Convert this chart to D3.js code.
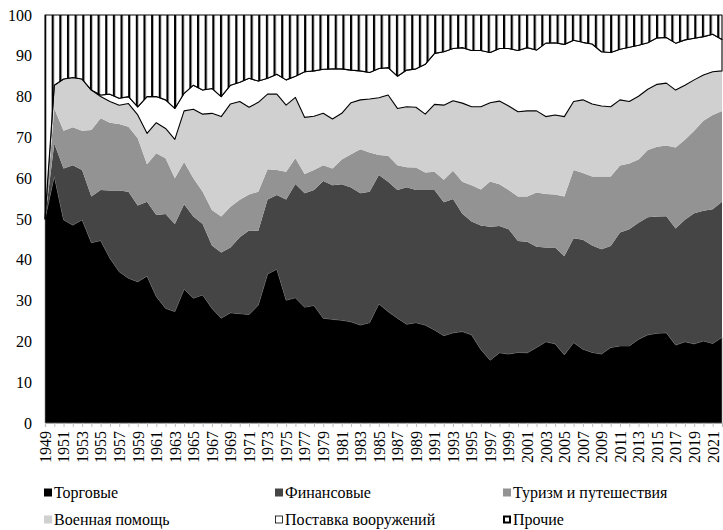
<!DOCTYPE html>
<html lang="ru">
<head>
<meta charset="utf-8">
<title>Структура</title>
<script src="https://cdn.jsdelivr.net/npm/d3@7"></script>
<style>
body { margin: 0; background: #fff; }
text { font-family: "Liberation Serif", "Times New Roman", serif; fill: #000; }
</style>
</head>
<body>
<script>
var years = d3.range(1949, 2023);

var trade = [50, 60.5, 49.8, 48.5, 49.8, 44.2, 44.7, 40.4, 37.1, 35.5,
  34.6, 36.0, 31.0, 28.1, 27.3, 32.8, 30.6, 31.4, 28.1, 25.7,
  27.0, 26.8, 26.6, 28.9, 36.5, 37.7, 30.1, 30.7, 28.4, 28.8,
  25.7, 25.4, 25.2, 24.8, 24.0, 24.6, 29.2, 27.3, 25.7, 24.2,
  24.6, 24.0, 22.8, 21.4, 22.1, 22.4, 21.6, 18.0, 15.4, 17.2,
  16.9, 17.3, 17.2, 18.5, 19.9, 19.4, 16.7, 19.7, 18.1, 17.3,
  16.9, 18.5, 18.9, 18.9, 20.5, 21.6, 22.0, 22.1, 19.1, 19.9,
  19.4, 20.1, 19.5, 21.0];

var finance = [0, 8.0, 12.6, 14.7, 12.2, 11.3, 12.4, 16.6, 19.9, 21.2,
  18.7, 18.2, 20.0, 23.1, 21.5, 20.8, 20.0, 17.4, 15.4, 16.1,
  16.0, 18.7, 20.6, 18.2, 18.3, 18.2, 24.7, 27.9, 27.9, 28.3,
  33.6, 32.9, 33.3, 32.9, 32.3, 32.1, 31.6, 31.8, 31.4, 33.6,
  32.5, 33.1, 34.3, 32.7, 32.8, 28.9, 27.8, 30.4, 32.7, 31.1,
  30.6, 27.3, 27.2, 24.7, 23.1, 23.6, 24.2, 25.6, 26.8, 26.2,
  25.7, 24.9, 27.8, 28.6, 28.6, 28.8, 28.6, 28.6, 28.6, 29.9,
  32.0, 31.9, 32.9, 33.2];

var tourism = [0, 8.6, 9.2, 9.3, 9.6, 16.3, 17.6, 16.6, 16.3, 15.9,
  16.5, 9.2, 15.1, 13.7, 11.2, 10.4, 9.4, 7.9, 8.7, 8.8,
  10.0, 9.2, 8.8, 9.6, 7.4, 6.1, 6.8, 6.3, 4.7, 4.9,
  3.9, 4.1, 6.1, 8.2, 10.8, 9.6, 4.9, 6.4, 6.1, 4.9,
  5.5, 4.3, 4.5, 5.5, 6.9, 7.8, 8.9, 8.8, 11.1, 10.2,
  9.6, 10.9, 11.1, 13.3, 13.1, 13.0, 14.6, 16.7, 16.4, 16.9,
  17.8, 17.0, 16.4, 16.1, 15.5, 16.5, 17.1, 17.3, 19.8, 19.6,
  20.2, 22.1, 23.1, 22.3];

var military = [0, 5.7, 12.7, 12.2, 12.7, 9.8, 5.3, 5.2, 4.6, 5.7,
  5.7, 7.6, 7.5, 7.3, 9.5, 12.5, 16.9, 19.0, 23.7, 24.5,
  25.2, 24.1, 21.4, 21.9, 18.4, 18.6, 16.3, 14.9, 13.9, 13.2,
  12.7, 12.1, 11.3, 12.6, 12.1, 13.1, 14.0, 14.9, 13.9, 14.8,
  14.8, 14.3, 16.5, 18.3, 17.2, 19.3, 19.2, 20.3, 19.3, 20.4,
  20.6, 20.8, 21.0, 20.0, 19.0, 19.5, 19.6, 16.8, 17.9, 17.8,
  17.3, 17.1, 16.1, 15.2, 15.5, 14.9, 15.3, 15.3, 14.1, 13.4,
  12.5, 11.2, 10.6, 9.8];

var arms = [0, 0, 0, 0, 0, 0, 0.4, 1.8, 1.7, 1.7,
  2.0, 9.0, 6.4, 7.0, 7.6, 4.3, 5.9, 5.9, 6.1, 4.9,
  4.6, 4.7, 7.1, 5.2, 3.9, 4.9, 6.2, 5.2, 11.2, 11.1,
  10.8, 12.3, 10.9, 8.0, 7.1, 6.5, 7.2, 6.7, 7.9, 9.0,
  9.4, 12.2, 12.5, 13.1, 12.8, 13.6, 13.8, 13.8, 12.3, 12.9,
  14.1, 15.0, 15.5, 14.9, 18.0, 17.7, 17.7, 15.0, 14.1, 14.7,
  13.3, 13.3, 12.4, 13.3, 12.5, 11.4, 11.4, 11.2, 11.5, 11.1,
  10.2, 9.4, 9.2, 7.7];

var other = [50, 17.2, 15.7, 15.3, 15.7, 18.4, 19.6, 19.4, 20.4, 20.0,
  22.5, 20.0, 20.0, 20.8, 22.9, 19.2, 17.2, 18.4, 18.0, 20.0,
  17.2, 16.5, 15.5, 16.2, 15.5, 14.5, 15.9, 15.0, 13.9, 13.7,
  13.3, 13.2, 13.2, 13.5, 13.7, 14.1, 13.1, 12.9, 15.0, 13.5,
  13.2, 12.1, 9.4, 9.0, 8.2, 8.0, 8.7, 8.7, 9.2, 8.2,
  8.2, 8.7, 8.0, 8.6, 6.9, 6.8, 7.2, 6.2, 6.7, 7.1,
  9.0, 9.2, 8.4, 7.9, 7.4, 6.8, 5.6, 5.5, 6.9, 6.1,
  5.7, 5.3, 4.7, 6.0];

var keys = ["trade", "finance", "tourism", "military", "arms", "other"];
var names = ["Торговые", "Финансовые", "Туризм и путешествия",
             "Военная помощь", "Поставка вооружений", "Прочие"];
var yTicks = [0, 10, 20, 30, 40, 50, 60, 70, 80, 90, 100];

var width = 723, height = 530;
var plotLeft = 45, plotRight = 722, plotTop = 15, plotBottom = 423;
var fontSize = 16;

var table = years.map(function(yr, i) {
  return { year: yr, trade: trade[i], finance: finance[i], tourism: tourism[i],
           military: military[i], arms: arms[i], other: other[i] };
});

var svg = d3.select("body").append("svg")
  .attr("width", width)
  .attr("height", height);

var defs = svg.append("defs");
var pat = defs.append("pattern")
  .attr("id", "stripes")
  .attr("patternUnits", "userSpaceOnUse")
  .attr("x", plotLeft - 1)
  .attr("y", 0)
  .attr("width", 7.65)
  .attr("height", 10);
pat.append("rect").attr("width", 7.65).attr("height", 10).attr("fill", "#fff");
pat.append("rect").attr("width", 2.2).attr("height", 10).attr("fill", "#000");

var x = d3.scaleLinear().domain([1949, 2022]).range([plotLeft, plotRight]);
var y = d3.scaleLinear().domain([0, 100]).range([plotBottom, plotTop]);

var series = d3.stack().keys(keys)(table);

var area = d3.area()
  .x(function(d) { return x(d.data.year); })
  .y0(function(d) { return y(d[0]); })
  .y1(function(d) { return y(d[1]); });

var fills = {
  trade: "#000", finance: "#454545", tourism: "#939393",
  military: "#d0d0d0", arms: "#fff", other: "url(#stripes)"
};
var strokes = {
  trade: "#8c8c8c", finance: "none", tourism: "none",
  military: "none", arms: "#000", other: "#000"
};

svg.append("g").selectAll("path")
  .data(series)
  .enter()
  .append("path")
  .attr("d", area)
  .attr("fill", function(d) { return fills[d.key]; })
  .attr("stroke", function(d) { return strokes[d.key]; })
  .attr("stroke-width", function(d) { return d.key == "trade" ? 0.6 : 1.1; })
  .attr("stroke-linejoin", "round");

// x axis
var xAxis = d3.axisBottom(x)
  .tickValues(years)
  .tickSize(4)
  .tickFormat(function(d) { return (d - 1949) % 2 == 0 ? d : ""; });

var gx = svg.append("g")
  .attr("transform", "translate(0," + plotBottom + ")")
  .call(xAxis);
gx.select(".domain").attr("stroke", "#a6a6a6").attr("stroke-width", 1.2);
gx.selectAll(".tick line").attr("stroke", "#bfbfbf");
gx.selectAll(".tick text")
  .attr("font-size", fontSize)
  .attr("font-family", "Liberation Serif")
  .attr("text-anchor", "end")
  .attr("transform", "rotate(-90)")
  .attr("x", -8)
  .attr("y", 0)
  .attr("dy", "0.33em");

// y axis
var yAxis = d3.axisLeft(y).tickValues(yTicks).tickSize(0).tickPadding(0);
var gy = svg.append("g")
  .attr("transform", "translate(32,0)")
  .call(yAxis);
gy.select(".domain").remove();
gy.selectAll(".tick text")
  .attr("font-size", fontSize)
  .attr("font-family", "Liberation Serif");

// legend
var legX = [44, 275, 503];
var legY = [493, 520];
var leg = svg.append("g");
keys.forEach(function(k, i) {
  var lx = legX[i % 3], ly = legY[Math.floor(i / 3)];
  var g = leg.append("g").attr("transform", "translate(" + lx + "," + ly + ")");
  var sq = g.append("rect")
    .attr("x", 0).attr("y", -4.5)
    .attr("width", 8).attr("height", 8)
    .attr("fill", k == "other" ? "#fff" : fills[k]);
  if (k == "arms") sq.attr("stroke", "#000").attr("stroke-width", 0.8).attr("x", 0.5).attr("width", 7).attr("height", 7).attr("y", -4);
  if (k == "other") sq.attr("stroke", "#000").attr("stroke-width", 2).attr("x", 1).attr("width", 6).attr("height", 6).attr("y", -3.5);
  g.append("text")
    .attr("x", 10)
    .attr("y", 0)
    .attr("dy", "0.33em")
    .attr("font-size", fontSize)
    .text(names[i]);
});
</script>
</body>
</html>
